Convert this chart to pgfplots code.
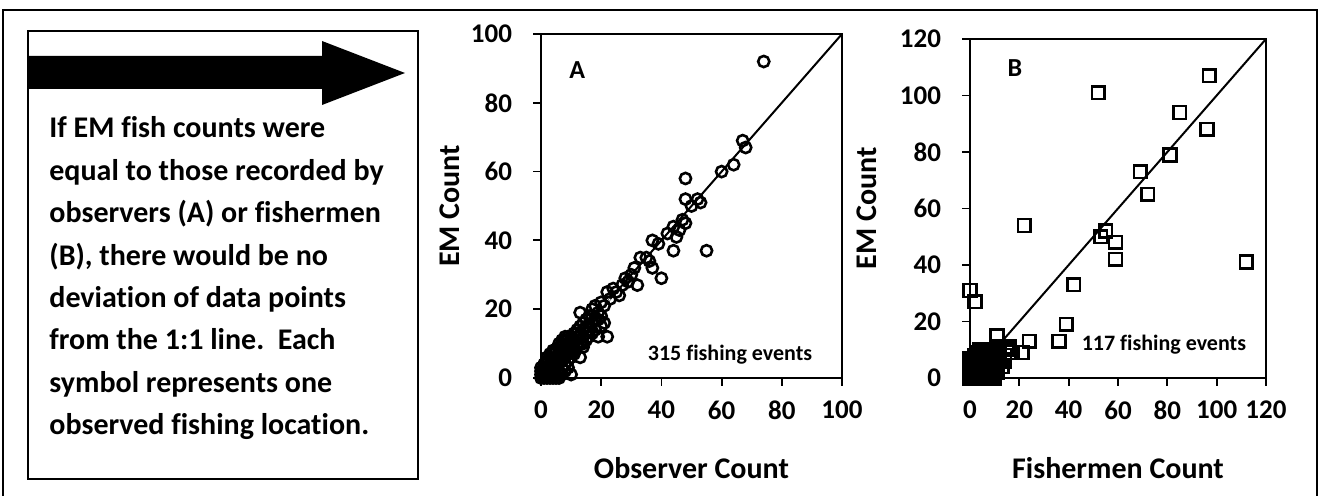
\documentclass[border=0pt]{standalone}
\usepackage{fontspec}
\setmainfont{Carlito}[Ligatures=NoCommon]
\usepackage{pgfplots}
\pgfplotsset{compat=1.18}

% common look of both panels
\pgfplotsset{emaxis/.style={
  scale only axis,
  axis line style={line width=0.9pt},
  tick style={line width=0.9pt, black},
  tick align=outside,
  major tick length=4pt,
  xtick pos=bottom, ytick pos=left,
  clip=false,
  xmin=0, ymin=0,
  /pgf/number format/assume math mode=true,
  ticklabel style={font=\fontsize{13.5}{15}\selectfont\bfseries},
  xticklabel style={yshift=-4pt},
  yticklabel style={xshift=-7pt},
  label style={font=\fontsize{15}{17}\selectfont\bfseries},
}}

\pgfplotstableread{
x y
74 92
67 69
68 67
64 62
60 60
48 58
48 52
52 52
53 51
48 45
44 44
46 43
45 41
55 37
44 37
37 40
39 39
40 29
37 32
36 34
33 35
31 32
32 27
28 29
26 24
24 26
22 25
18 21
13 19
22 12
19 12
18 17
13 6
16 15
10 1
42 42
47 46
50 50
35 35
30 30
29 28
27 27
25 25
23 23
21 21
20 22
19 19
17 16
15 15
14 14
16 18
17 20
20 18
21 16
15 11
14 10
12 13
0 0
0 1
1 0
1 1
1 2
2 1
2 2
2 3
3 2
3 3
3 4
4 3
4 4
4 5
5 4
5 5
5 6
6 5
6 6
6 7
7 6
7 7
7 8
8 7
8 8
8 9
9 8
9 9
9 10
10 9
10 10
10 11
11 10
11 11
12 12
2 5
3 6
4 7
5 8
6 9
7 10
8 11
9 12
10 12
8 12
11 13
12 14
13 15
14 16
15 17
2 0
3 0
4 1
5 1
6 2
7 3
8 4
9 5
10 6
11 8
12 9
13 10
14 12
15 13
16 14
4 0
5 0
6 0
7 1
8 2
9 3
6 1
1 3
0 2
0 3
1 4
2 6
3 7
4 8
6 10
7 11
17 18
19 17
20 15
14 9
16 12
17 13
18 14
0.5 0.5
1.5 2.5
2.5 1.5
3.5 4.5
4.5 3.5
5.5 6.5
6.5 5.5
7.5 8.5
8.5 7.5
9.5 10.5
10.5 9.5
11 7
12 10
13 12
9 7
8 6
7 5
5 3
3 1
}\observer

\pgfplotstableread{
x y
97 107
52 101
85 94
96 88
81 79
69 73
72 65
22 54
55 52
53 50
59 48
59 42
42 33
0 31
2 27
39 19
36 13
24 13
11 15
21 9
16 11
15 10
17 9
14 6
14 8
112 41
0 0
1 0
0 1
1 1
2 2
1 3
3 1
2 4
3 3
4 2
4 4
5 3
3 5
5 5
6 4
4 6
6 6
7 5
5 7
7 7
8 6
6 8
8 8
9 7
7 9
9 9
10 8
8 10
10 10
5 9
6 10
4 8
3 7
2 6
9 1
8 2
7 3
6 1
5 1
4 0
2 0
0 3
1 5
10 3
11 5
12 7
12 9
10 0
9 0
11 2
13 4
0.5 0.5
1.5 2.5
2.5 1.5
3.5 4.5
4.5 3.5
5.5 6.5
6.5 5.5
7.5 8.5
8.5 7.5
1 7
2 8
3 9
4 10
7 10
9 10
11 10
12 11
11 7
11 4
10 2
9 4
8 5
7 4
6 3
5 2
3 2
0 5
0 7
}\fishermen

\begin{document}
\begin{tikzpicture}
\useasboundingbox (0,0) rectangle (660.5pt,248pt);
% outer frame, cut at the bottom
\draw[line width=1.25pt] (1.5pt,-2pt) -- (1.5pt,243pt) -- (658.5pt,243pt) -- (658.5pt,-2pt);
% text box with arrow
\draw[line width=1pt] (14pt,8.5pt) rectangle (209pt,232.5pt);
\fill (14pt,203.5pt) -- (161pt,203.5pt) -- (161pt,195.5pt) -- (202.5pt,211.5pt)
  -- (161pt,227.5pt) -- (161pt,220pt) -- (14pt,220pt) -- cycle;
\begin{scope}[every node/.style={anchor=base west, inner sep=0pt,
    font=\fontsize{15}{17}\selectfont\bfseries}]
\node at (24.5pt,179pt) {If EM fish counts were};
\node at (24.5pt,157.8pt) {equal to those recorded by};
\node at (24.5pt,136.6pt) {observers (A) or fishermen};
\node at (24.5pt,115.4pt) {(B), there would be no};
\node at (24.5pt,94.2pt) {deviation of data points};
\node at (24.5pt,73pt) {from the 1:1 line.\ \ Each};
\node at (24.5pt,51.8pt) {symbol represents one};
\node at (24.5pt,30.6pt) {observed fishing location.};
\end{scope}

% panel A
\begin{axis}[emaxis,
  at={(270.5pt,59pt)}, anchor=south west,
  width=150.5pt, height=172pt,
  xmax=100, ymax=100,
  xtick={0,20,...,100}, ytick={0,20,...,100},
  xlabel={Observer Count}, ylabel={EM Count},
  xlabel style={at={(axis description cs:0.5,-0.262)}, anchor=center},
  ylabel style={at={(axis description cs:-0.302,0.5)}, anchor=center},
]
\addplot[black, line width=1pt] coordinates {(0,0) (100,100)};
\addplot[only marks, mark=o, mark size=2.8pt, mark options={line width=1.3pt, black}] table {\observer};
\addplot[white, line width=0.6pt] coordinates {(0.5,0.5) (23,23)};
\node[font=\fontsize{13}{15}\selectfont\bfseries] at (axis cs:12,89.5) {A};
\node[font=\fontsize{11}{13}\selectfont\bfseries] at (axis cs:62.8,6.7) {315 fishing events};
\end{axis}

% panel B
\begin{axis}[emaxis,
  at={(485pt,59pt)}, anchor=south west,
  width=148pt, height=169.5pt,
  xmax=120, ymax=120,
  xtick={0,20,...,120}, ytick={0,20,...,120},
  xlabel={Fishermen Count}, ylabel={EM Count},
  xlabel style={at={(axis description cs:0.5,-0.265)}, anchor=center},
  ylabel style={at={(axis description cs:-0.348,0.5)}, anchor=center},
]
\addplot[black, line width=1pt] coordinates {(0,0) (120,120)};
\addplot[only marks, mark=square, mark size=3.2pt, mark options={line width=1.3pt, black}] table {\fishermen};
\node[font=\fontsize{13}{15}\selectfont\bfseries] at (axis cs:18.2,109.7) {B};
\node[font=\fontsize{11}{13}\selectfont\bfseries] at (axis cs:78.6,11.7) {117 fishing events};
\end{axis}
\end{tikzpicture}
\end{document}
